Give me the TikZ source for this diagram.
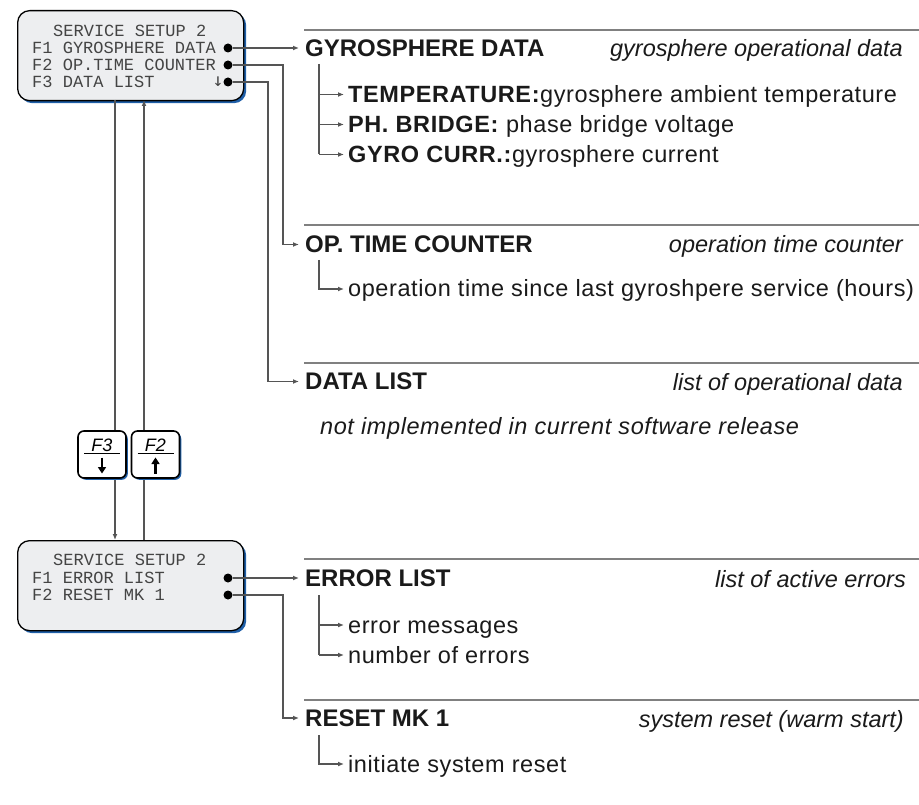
\documentclass[tikz,border=0pt]{standalone}
\usepackage{fontspec}
\setmainfont{Liberation Sans}
\newfontfamily\bodyfont[LetterSpace=2.5]{Liberation Sans}
\newfontfamily\lcdfont{Liberation Mono}
\newfontfamily\symfont{DejaVu Sans Mono}
\usetikzlibrary{arrows.meta,calc,shadows}
\definecolor{lcdfill}{HTML}{EDEEF0}
\definecolor{shadowblue}{HTML}{1F5FA8}
\definecolor{wirecol}{HTML}{555555}
\definecolor{sepcol}{HTML}{808080}
\definecolor{lcdtext}{HTML}{444444}
\definecolor{txt}{HTML}{1A1A1A}
\tikzset{
  lcd/.style={draw=black, line width=1.3pt, fill=lcdfill, rounded corners=12pt,
    minimum width=226pt, minimum height=90pt, anchor=north west, inner sep=0pt,
    drop shadow={shadow xshift=2.5pt, shadow yshift=-2.5pt, fill=shadowblue, opacity=1}},
  lcdline/.style={anchor=west, inner sep=0pt, font=\fontsize{17}{17}\lcdfont, text=lcdtext},
  dot/.style={circle, fill=black, inner sep=0pt, minimum size=9pt},
  wire/.style={draw=wirecol, line width=1.2pt},
  wirearrow/.style={wire, -{Latex[length=6pt,width=5pt]}},
  sepline/.style={draw=sepcol, line width=1.5pt},
  head/.style={anchor=west, inner sep=0pt, text=txt, font=\fontsize{24}{24}\selectfont\bfseries},
  desc/.style={anchor=base east, inner sep=0pt, text=txt, font=\fontsize{23.5}{23.5}\selectfont\itshape},
  item/.style={anchor=base west, inner sep=0pt, text=txt, font=\fontsize{23.5}{23.5}\bodyfont},
  keybox/.style={draw=black, line width=1.6pt, fill=white, rounded corners=6pt,
    minimum width=48pt, minimum height=47pt, inner sep=0pt,
    drop shadow={shadow xshift=1.8pt, shadow yshift=-1.8pt, fill=shadowblue, opacity=1}},
  keylabel/.style={inner sep=0pt, font=\fontsize{18}{18}\selectfont\itshape},
  keyarrow/.style={line width=2.2pt, -{Triangle[length=6.5pt,width=8pt]}},
}
\begin{document}
\begin{tikzpicture}[x=1pt,y=-1pt]
\useasboundingbox (0,0) rectangle (919,805);

% ---------- LCD boxes ----------
\node[lcd] (lcdA) at (17,10) {};
\node[lcdline] (a0) at (53,31) {SERVICE SETUP 2};
\node[lcdline] (a1) at (32,48) {F1 GYROSPHERE DATA};
\node[lcdline] (a2) at (32,65) {F2 OP.TIME COUNTER};
\node[lcdline] (a3) at (32,82) {F3 DATA LIST};
\node[inner sep=0pt, text=lcdtext, font=\fontsize{18}{18}\symfont] (a3arr) at (218,82) {↓};
\node[dot] (d1) at (228,48) {};
\node[dot] (d2) at (228,65) {};
\node[dot] (d3) at (228,82) {};

\node[lcd] (lcdB) at (17,540) {};
\node[lcdline] (b0) at (53,560) {SERVICE SETUP 2};
\node[lcdline] (b1) at (32,578) {F1 ERROR LIST};
\node[lcdline] (b2) at (32,595) {F2 RESET MK 1};
\node[dot] (e1) at (228,578) {};
\node[dot] (e2) at (228,595) {};

% ---------- separators ----------
\coordinate (s1a) at (304,30);  \coordinate (s1b) at (919,30);
\coordinate (s2a) at (304,225); \coordinate (s2b) at (919,225);
\coordinate (s3a) at (304,363); \coordinate (s3b) at (919,363);
\coordinate (s4a) at (304,559); \coordinate (s4b) at (919,559);
\coordinate (s5a) at (304,700); \coordinate (s5b) at (919,700);
\foreach \s in {1,...,5} \draw[sepline] (s\s a) -- (s\s b);

% ---------- headings ----------
\node[head] (h1) at (305,48) {GYROSPHERE DATA};
\node[head] (h2) at (305,244.5) {OP. TIME COUNTER};
\node[head] (h3) at (305,381.5) {DATA LIST};
\node[head] (h4) at (305,578) {ERROR LIST};
\node[head] (h5) at (305,718) {RESET MK 1};

\node[desc] (q1) at (903,57) {gyrosphere operational data};
\node[desc] (q2) at (903,253) {operation time counter};
\node[desc] (q3) at (903,390) {list of operational data};
\node[desc] (q4) at (906,587) {list of active errors};
\node[desc] (q5) at (904,727) {system reset (warm start)};

% ---------- items ----------
\node[item] (t1) at (348,103) {\textbf{TEMPERATURE:}gyrosphere ambient temperature};
\node[item] (t2) at (348,133) {\textbf{PH. BRIDGE:} phase bridge voltage};
\node[item] (t3) at (348,163) {\textbf{GYRO CURR.:}gyrosphere current};
\node[item] (o1) at (348,297) {operation time since last gyroshpere service (hours)};
\node[item, font=\fontsize{23.5}{23.5}\bodyfont\itshape] (n1) at (320,434) {not implemented in current software release};
\node[item] (m1) at (348,633) {error messages};
\node[item] (m2) at (348,663) {number of errors};
\node[item] (r1) at (348,772) {initiate system reset};

% ---------- connectors from LCD ----------
\draw[wirearrow, shorten >=6pt] (d1) -- (h1.west);
\draw[wirearrow, shorten >=6pt] (d2) -- ++(55,0) |- (h2.west);
\draw[wirearrow, shorten >=6pt] (d3) -- ++(40,0) |- (h3.west);
\draw[wirearrow, shorten >=6pt] (e1) -- (h4.west);
\draw[wirearrow, shorten >=6pt] (e2) -- ++(55,0) |- (h5.west);

% ---------- tree connectors ----------
\coordinate (g1) at (319,64);
\draw[wire] (g1) -- ($(g1|-t3.base)+(0,-8.5)$);
\foreach \t in {t1,t2,t3}
  \draw[wirearrow, shorten >=4pt] ($(g1|-\t.base)+(0,-8.5)$) -- ($(\t.base west)+(0,-8.5)$);
\coordinate (g2) at (319,260);
\draw[wirearrow, shorten >=4pt] (g2) |- ($(o1.base west)+(0,-8)$);
\coordinate (g4) at (319,595);
\draw[wire] (g4) -- ($(g4|-m2.base)+(0,-8)$);
\foreach \t in {m1,m2}
  \draw[wirearrow, shorten >=4pt] ($(g4|-\t.base)+(0,-8)$) -- ($(\t.base west)+(0,-8)$);
\coordinate (g5) at (319,735);
\draw[wirearrow, shorten >=4pt] (g5) |- ($(r1.base west)+(0,-8)$);

% ---------- vertical links between LCDs ----------
\coordinate (vAt) at (115,100); \coordinate (vAb) at (115,540);
\coordinate (vBt) at (144,100); \coordinate (vBb) at (144,540);
\draw[wirearrow] (vAt) -- (vAb);
\draw[wirearrow] (vBb) -- (vBt);

% ---------- keys ----------
\node[keybox] (kF3) at (102,454.5) {};
\node[keybox] (kF2) at (155.5,454.5) {};
\node[keylabel] (kF3t) at ($(kF3.center)+(0,-9.5)$) {F3};
\node[keylabel] (kF2t) at ($(kF2.center)+(0,-9.5)$) {F2};
\draw[line width=1.6pt] ($(kF3.center)+(-18,-1)$) -- ($(kF3.center)+(18,-1)$);
\draw[line width=1.6pt] ($(kF2.center)+(-18,-1)$) -- ($(kF2.center)+(18,-1)$);
\draw[keyarrow] ($(kF3.center)+(0,3)$) -- ($(kF3.center)+(0,19)$);
\draw[keyarrow] ($(kF2.center)+(0,19)$) -- ($(kF2.center)+(0,3)$);
\end{tikzpicture}
\end{document}
